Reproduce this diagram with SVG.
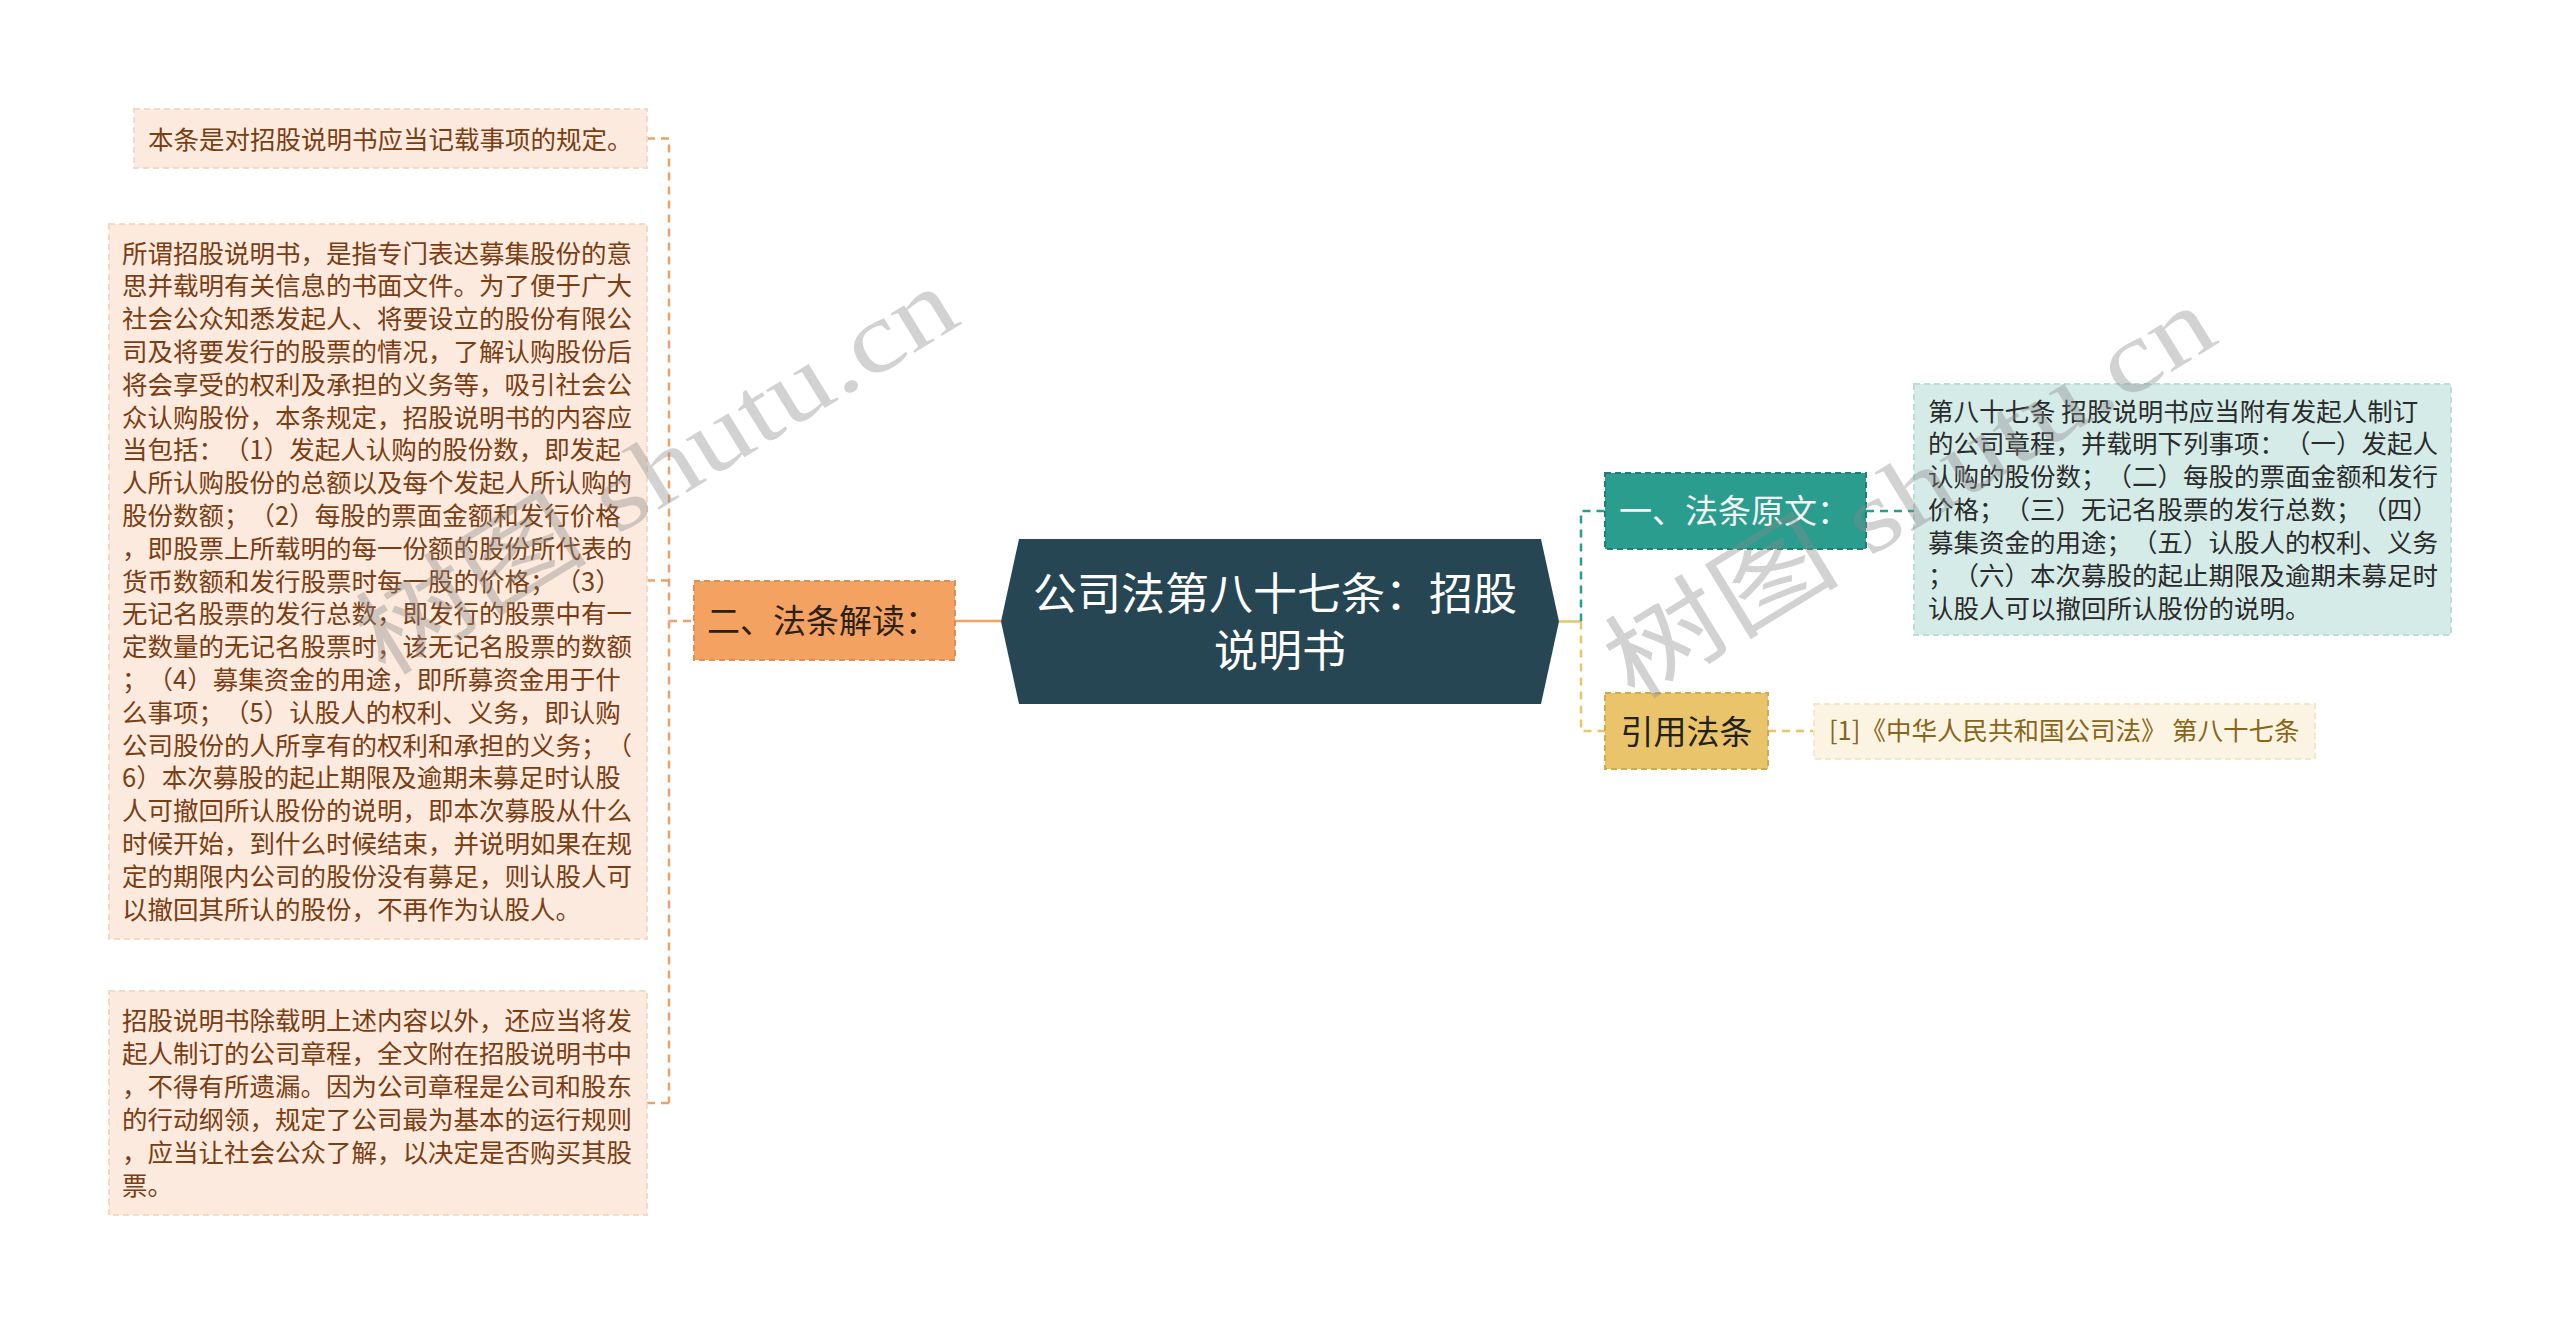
<svg xmlns="http://www.w3.org/2000/svg" width="2560" height="1324" viewBox="0 0 2560 1324">
<style>
.t{font-family:"Noto Sans CJK SC","Noto Sans",sans-serif;text-spacing-trim:space-all;}
.lb{fill:#fdeade;stroke:#f6d8c4;stroke-width:2;stroke-dasharray:6 4;}
.lt{font-size:25.5px;fill:#7b3d12;}
.rt{font-size:25.5px;fill:#2b2b2b;}
.nd{font-size:33px;}
.cl{fill:none;stroke-width:2.5;}
.dl{stroke:#eba26b;stroke-dasharray:8 6;}
.wm{font-family:"Liberation Serif","Noto Sans CJK SC",serif;font-size:100px;fill:#8a8a8a;opacity:0.38;}
</style>
<rect width="2560" height="1324" fill="#ffffff"/>
<g id="connectors">
<path class="cl dl" d="M647,138.5 H669 V1103 M647,580.5 H669 M647,1103 H669 M669,621 H694"/>
<path class="cl" stroke="#f4a261" stroke-width="3" d="M955,621 H1001"/>
<path class="cl" stroke="#e9c46a" stroke-width="3" d="M1559,621.5 H1581"/>
<path class="cl" stroke="#2a9d8f" stroke-dasharray="8 6" d="M1581,621.5 V511 H1605"/>
<path class="cl" stroke="#e9c46a" stroke-dasharray="8 6" d="M1581,621.5 V731 H1605"/>
<path class="cl" stroke="#2a9d8f" stroke-dasharray="8 6" d="M1866,511 H1914"/>
<path class="cl" stroke="#e9c46a" stroke-dasharray="8 6" d="M1768,731 H1814"/>
</g>
<g id="note1">
<rect class="lb" x="134" y="109" width="513" height="59"/>
<text class="t lt" x="148" y="148.5">本条是对招股说明书应当记载事项的规定。</text>
</g>
<g id="note2">
<rect class="lb" x="109" y="224" width="538" height="715"/>
<text class="t lt">
<tspan x="122" y="262.5">所谓招股说明书，是指专门表达募集股份的意</tspan>
<tspan x="122" y="295.3">思并载明有关信息的书面文件。为了便于广大</tspan>
<tspan x="122" y="328.1">社会公众知悉发起人、将要设立的股份有限公</tspan>
<tspan x="122" y="360.9">司及将要发行的股票的情况，了解认购股份后</tspan>
<tspan x="122" y="393.7">将会享受的权利及承担的义务等，吸引社会公</tspan>
<tspan x="122" y="426.5">众认购股份，本条规定，招股说明书的内容应</tspan>
<tspan x="122" y="459.3">当包括：（1）发起人认购的股份数，即发起</tspan>
<tspan x="122" y="492.1">人所认购股份的总额以及每个发起人所认购的</tspan>
<tspan x="122" y="524.9">股份数额；（2）每股的票面金额和发行价格</tspan>
<tspan x="122" y="557.7">，即股票上所载明的每一份额的股份所代表的</tspan>
<tspan x="122" y="590.5">货币数额和发行股票时每一股的价格；（3）</tspan>
<tspan x="122" y="623.3">无记名股票的发行总数，即发行的股票中有一</tspan>
<tspan x="122" y="656.1">定数量的无记名股票时，该无记名股票的数额</tspan>
<tspan x="122" y="688.9">；（4）募集资金的用途，即所募资金用于什</tspan>
<tspan x="122" y="721.7">么事项；（5）认股人的权利、义务，即认购</tspan>
<tspan x="122" y="754.5">公司股份的人所享有的权利和承担的义务；（</tspan>
<tspan x="122" y="787.3">6）本次募股的起止期限及逾期未募足时认股</tspan>
<tspan x="122" y="820.1">人可撤回所认股份的说明，即本次募股从什么</tspan>
<tspan x="122" y="852.9">时候开始，到什么时候结束，并说明如果在规</tspan>
<tspan x="122" y="885.7">定的期限内公司的股份没有募足，则认股人可</tspan>
<tspan x="122" y="918.5">以撤回其所认的股份，不再作为认股人。</tspan>
</text>
</g>
<g id="note3">
<rect class="lb" x="109" y="991" width="538" height="224"/>
<text class="t lt">
<tspan x="122" y="1030">招股说明书除载明上述内容以外，还应当将发</tspan>
<tspan x="122" y="1063">起人制订的公司章程，全文附在招股说明书中</tspan>
<tspan x="122" y="1096">，不得有所遗漏。因为公司章程是公司和股东</tspan>
<tspan x="122" y="1129">的行动纲领，规定了公司最为基本的运行规则</tspan>
<tspan x="122" y="1162">，应当让社会公众了解，以决定是否购买其股</tspan>
<tspan x="122" y="1195">票。</tspan>
</text>
</g>
<g id="interpret">
<rect x="694" y="581" width="261" height="79" fill="#f4a261" stroke="#e38d50" stroke-width="2" stroke-dasharray="6 4"/>
<text class="t nd" x="707" y="633" fill="#2d2016">二、法条解读：</text>
</g>
<g id="center">
<path d="M1001,621.5 L1019,539 L1541,539 L1559,621.5 L1541,704 L1019,704 Z" fill="#264653"/>
<text class="t" font-size="44" fill="#ffffff" text-anchor="middle">
<tspan x="1280" y="610">公司法第八十七条：招股</tspan>
<tspan x="1280" y="667">说明书</tspan>
</text>
</g>
<g id="original">
<rect x="1605" y="473" width="261" height="76" fill="#2a9d8f" stroke="#1f7f73" stroke-width="2" stroke-dasharray="6 4"/>
<text class="t nd" x="1619" y="523" fill="#f4f4f4">一、法条原文：</text>
</g>
<g id="original-text">
<rect x="1914" y="384" width="537" height="251" fill="#d5ebe8" stroke="#bcdcd8" stroke-width="2" stroke-dasharray="6 4"/>
<text class="t rt">
<tspan x="1928" y="420.5">第八十七条 招股说明书应当附有发起人制订</tspan>
<tspan x="1928" y="453.4">的公司章程，并载明下列事项：（一）发起人</tspan>
<tspan x="1928" y="486.3">认购的股份数；（二）每股的票面金额和发行</tspan>
<tspan x="1928" y="519.2">价格；（三）无记名股票的发行总数；（四）</tspan>
<tspan x="1928" y="552.1">募集资金的用途；（五）认股人的权利、义务</tspan>
<tspan x="1928" y="585">；（六）本次募股的起止期限及逾期未募足时</tspan>
<tspan x="1928" y="617.9">认股人可以撤回所认股份的说明。</tspan>
</text>
</g>
<g id="cite">
<rect x="1605" y="693" width="163" height="76" fill="#e9c46a" stroke="#d2aa48" stroke-width="2" stroke-dasharray="6 4"/>
<text class="t nd" x="1686.5" y="743.5" fill="#222222" text-anchor="middle">引用法条</text>
</g>
<g id="cite-text">
<rect x="1814" y="704" width="501" height="55" fill="#fbf4e2" stroke="#f3e7c8" stroke-width="2" stroke-dasharray="6 4"/>
<text class="t" font-size="25.5" x="1829" y="740" fill="#8a6518">[1]《中华人民共和国公司法》 第八十七条</text>
</g>
<g id="watermarks">
<text class="wm" transform="translate(384,678) rotate(-31.5)" textLength="680" lengthAdjust="spacingAndGlyphs">树图 shutu.cn</text>
<text class="wm" transform="translate(1633,702) rotate(-31.5)" textLength="690" lengthAdjust="spacingAndGlyphs">树图 shutu.cn</text>
</g>
</svg>
